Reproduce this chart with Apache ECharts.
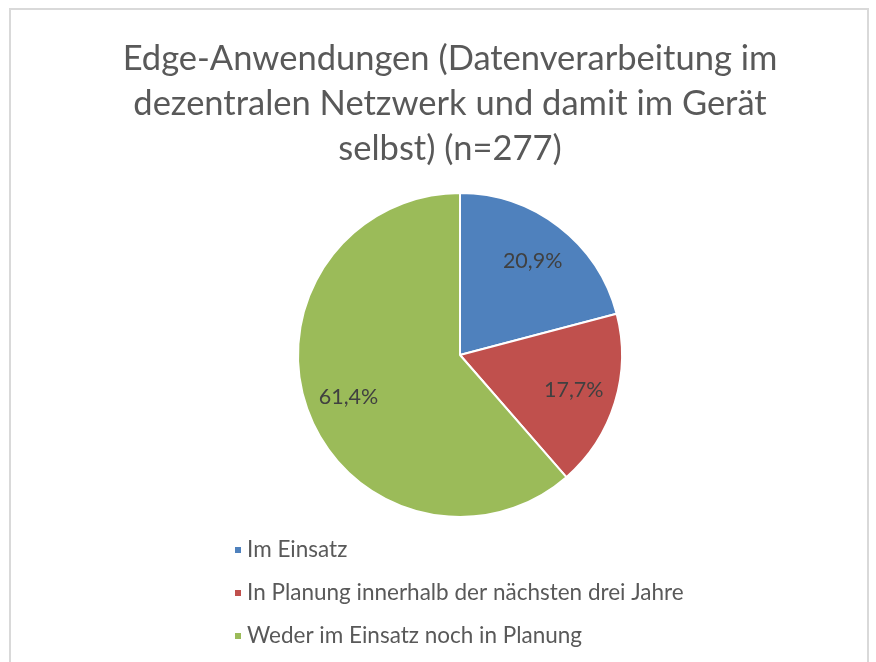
<!DOCTYPE html>
<html>
<head>
<meta charset="utf-8">
<script src="https://cdn.jsdelivr.net/npm/echarts@6/dist/echarts.min.js"></script>
<style>
  html, body { margin: 0; padding: 0; background: #fff; }
  #main { width: 876px; height: 662px; }
</style>
</head>
<body>
<div id="main"></div>
<script>
  // Daten
  var categories = ['Im Einsatz', 'In Planung innerhalb der nächsten drei Jahre', 'Weder im Einsatz noch in Planung'];
  var values = [20.9, 17.7, 61.4];
  var colors = ['#4f81bd', '#c0504d', '#9bbb59'];
  var titleText = 'Edge-Anwendungen (Datenverarbeitung im\ndezentralen Netzwerk und damit im Gerät\nselbst) (n=277)';

  var pieData = categories.map(function (name, i) {
    return { name: name, value: values[i], itemStyle: { color: colors[i] } };
  });
  var labelData = categories.map(function (name, i) {
    return { name: name, value: values[i] };
  });

  var fontFam = 'Lato, "Open Sans", sans-serif';
  var chart = echarts.init(document.getElementById('main'));
  chart.setOption({
    animation: false,
    textStyle: { fontFamily: fontFam },
    graphic: [{
      type: 'rect',
      shape: { x: 10, y: 9, width: 858, height: 700 },
      style: { fill: 'none', stroke: '#d9d9d9', lineWidth: 2 },
      silent: true
    }],
    title: {
      text: titleText,
      left: 445,
      top: 31,
      textAlign: 'center',
      textStyle: {
        fontFamily: fontFam,
        fontSize: 34.5,
        fontWeight: 'normal',
        color: '#595959',
        lineHeight: 45
      }
    },
    legend: {
      orient: 'vertical',
      left: 228,
      top: 533,
      icon: 'rect',
      itemWidth: 8,
      itemHeight: 8,
      itemGap: 19,
      data: categories,
      textStyle: { fontFamily: fontFam, fontSize: 22.5, color: '#595959', lineHeight: 24 }
    },
    series: [
      {
        name: 'Edge',
        type: 'pie',
        center: [460, 355],
        radius: 162,
        startAngle: 90,
        clockwise: true,
        data: pieData,
        label: { show: false },
        labelLine: { show: false },
        itemStyle: { borderColor: '#fff', borderWidth: 2 },
        silent: true
      },
      {
        // nur Beschriftungen, weiter außen als "inside"
        name: 'Labels',
        type: 'pie',
        center: [460, 355],
        radius: 232,
        startAngle: 90,
        clockwise: true,
        data: labelData,
        itemStyle: { color: 'rgba(0,0,0,0)' },
        label: {
          show: true,
          position: 'inside',
          fontFamily: fontFam,
          fontSize: 21.5,
          color: '#404040',
          formatter: function (p) { return p.value.toFixed(1).replace('.', ',') + '%'; }
        },
        labelLine: { show: false },
        silent: true,
        z: 3
      }
    ]
  });
</script>
</body>
</html>
